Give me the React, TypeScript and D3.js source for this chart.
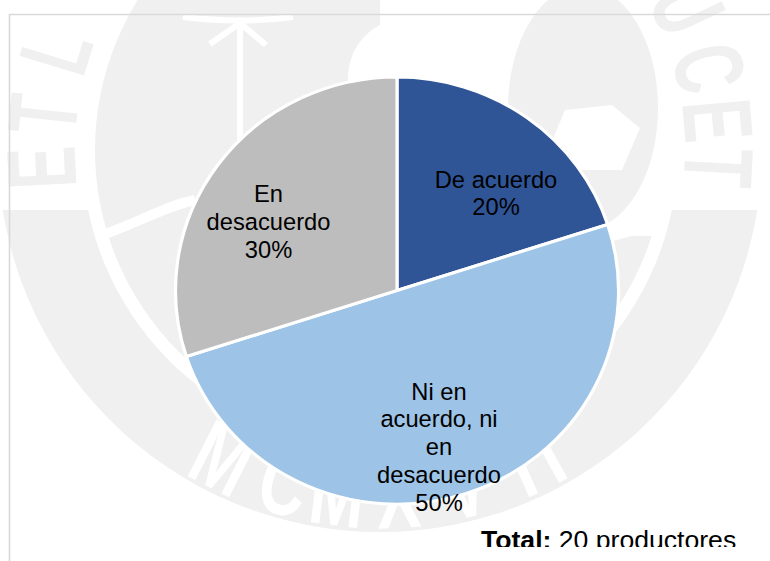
import React from "react";
import * as d3 from "d3";

const categories = ["De acuerdo", "Ni en acuerdo, ni en desacuerdo", "En desacuerdo"];
const values = [20, 50, 30];
const labelLines = [
  ["De acuerdo", "20%"],
  ["Ni en", "acuerdo, ni", "en", "desacuerdo", "50%"],
  ["En", "desacuerdo", "30%"],
];
const colors = ["#2F5597", "#9DC3E6", "#BDBDBD"];
const sealTopLetters = ["E", "T", "L", "U", "C", "E", "T"];
const sealTopAngles = [-93, -84, -73, 65, 76, 85, 93];
const sealBottomLetters = ["M", "C", "M", "X", "V", "I", "I"];
const sealBottomAngles = [-27, -16, -7, 3, 14, 24, 29];

const W = 770, H = 561;
const cx = 397, cy = 290.5, rx = 221.5, ry = 213.5;
const labelAnchor: [number, number][] = [[496, 187.5], [439, 399.5], [268.5, 202]];
const FONT = "'Liberation Sans', Arial, sans-serif";
const WM = "#f0f0f0";
const sx = 380, sy = 150; // watermark seal centre

const sectorArc = d3.arc<d3.PieArcDatum<number>>().innerRadius(0).outerRadius(rx);
const ring = d3.arc()({ innerRadius: 298, outerRadius: 382, startAngle: 0, endAngle: Math.PI * 2 }) as string;
const leftDisk = d3.arc()({ innerRadius: 0, outerRadius: 285, startAngle: Math.PI, endAngle: Math.PI * 2 }) as string;
const rightDisk = d3.arc()({ innerRadius: 0, outerRadius: 285, startAngle: 0, endAngle: Math.PI }) as string;

export default function App() {
  const arcs = d3.pie<number>().sort(null).startAngle(0).endAngle(2 * Math.PI)(values);
  return (
    <svg width={W} height={H} viewBox={`0 0 ${W} ${H}`}
      style={{ position: "absolute", left: 0, top: 0, background: "#fff" }}>
      <defs>
        <clipPath id="page"><rect x={0} y={0} width={W} height={547} /></clipPath>
        <clipPath id="ringClip"><rect x={0} y={210} width={W} height={H} /></clipPath>
        <clipPath id="rightClip"><rect x={0} y={236} width={W} height={H} /></clipPath>
      </defs>

      <g clipPath="url(#ringClip)">
        <path transform={`translate(${sx},${sy})`} d={ring} fill={WM} />
      </g>
      <path transform={`translate(${sx},${sy})`} d={leftDisk} fill={WM} />
      <g clipPath="url(#rightClip)">
        <path transform={`translate(${sx},${sy})`} d={rightDisk} fill={WM} />
      </g>
      <rect x={348} y={18} width={170} height={260} rx={60} fill="#fff" />
      <ellipse cx={583} cy={108} rx={75} ry={122} fill={WM} />
      <polygon points="565,110 612,105 640,128 622,170 540,170" fill="#fff" />
      <path d="M 240 23 L 240 140 M 183 17 Q 240 24 293 17 M 210 44 L 240 23 L 266 45" stroke="#fff" strokeWidth={6} fill="none" />
      <path d="M 105 234 C 140 222 165 206 195 200" stroke="#fff" strokeWidth={10} fill="none" />
      <path d="M 612 236 L 660 224" stroke="#fff" strokeWidth={10} fill="none" />
      {sealTopLetters.map((c, i) => (
        <text key={i} transform={`translate(${sx},${sy}) rotate(${sealTopAngles[i]}) translate(0,-305) scale(0.65,1)`}
          textAnchor="middle" fontFamily={FONT} fontWeight="bold" fontSize={98} fill={WM}>{c}</text>
      ))}
      {sealBottomLetters.map((c, i) => (
        <text key={i} transform={`translate(${sx},${sy}) rotate(${-sealBottomAngles[i]}) translate(0,378) scale(0.72,1)`}
          textAnchor="middle" fontFamily={FONT} fontWeight="bold" fontSize={92} fill="#fff">{c}</text>
      ))}

      <path d={`M 9.5 ${H} V 14.5 H ${W}`} fill="none" stroke="#d9d9d9" strokeWidth={1.6} />

      <g transform={`translate(${cx},${cy}) scale(1,${ry / rx})`}>
        {arcs.map((a, i) => (
          <path key={categories[i]} d={sectorArc(a) as string} fill={colors[i]} stroke="#fff" strokeWidth={3.2} />
        ))}
      </g>

      {labelLines.map((lines, i) => (
        <text key={categories[i]} x={labelAnchor[i][0]} y={labelAnchor[i][1]} textAnchor="middle"
          fontFamily={FONT} fontSize={23.7} fill="#000">
          {lines.map((l, j) => (
            <tspan key={j} x={labelAnchor[i][0]} y={labelAnchor[i][1] + j * 27.9}>{l}</tspan>
          ))}
        </text>
      ))}

      <g clipPath="url(#page)">
        <text x={481} y={549} fontFamily={FONT} fontSize={26.6} fill="#000">
          <tspan fontWeight="bold">Total:</tspan> 20 productores
        </text>
      </g>
    </svg>
  );
}
